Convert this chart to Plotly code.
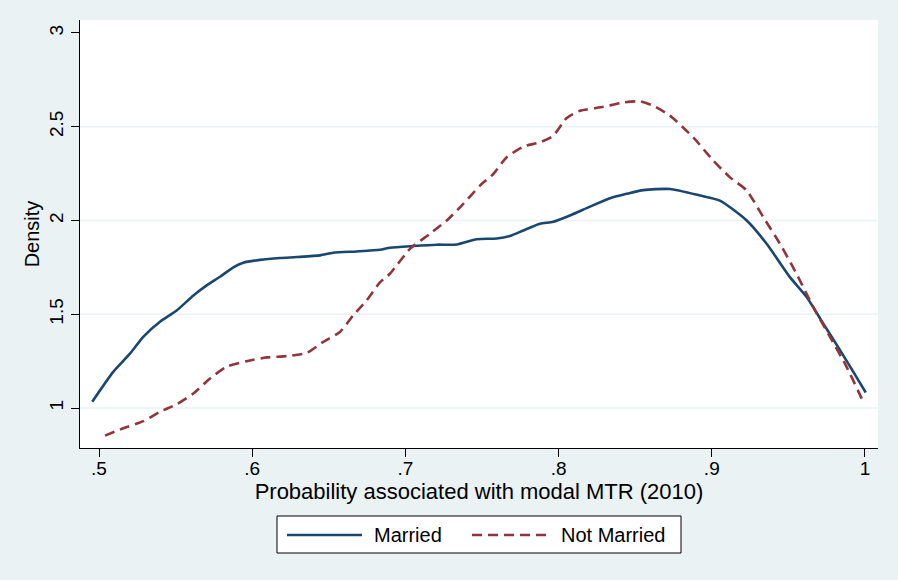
import plotly.graph_objects as go

# Kernel density estimates
married_x = [0.4956, 0.5093, 0.5202, 0.5289, 0.5398, 0.5507, 0.5616, 0.5703, 0.579, 0.5877,
             0.5942, 0.6051, 0.6181, 0.629, 0.6443, 0.6529, 0.6682, 0.6834, 0.6899, 0.7052,
             0.7204, 0.7335, 0.7465, 0.7596, 0.7683, 0.777, 0.7879, 0.7965, 0.8074, 0.8205,
             0.8336, 0.8444, 0.8553, 0.8727, 0.8923, 0.9053, 0.9228, 0.9358, 0.951, 0.9619,
             0.9728, 0.9837, 0.9924, 1.0005]
married_y = [1.034, 1.193, 1.29, 1.38, 1.46, 1.52, 1.60, 1.654, 1.70, 1.75,
             1.775, 1.79, 1.80, 1.805, 1.814, 1.828, 1.835, 1.844, 1.855, 1.864,
             1.871, 1.872, 1.90, 1.904, 1.918, 1.947, 1.982, 1.993, 2.027, 2.074,
             2.119, 2.142, 2.162, 2.168, 2.133, 2.106, 2.0, 1.876, 1.698, 1.592,
             1.45, 1.309, 1.193, 1.083]

not_married_x = [0.5039, 0.5159, 0.5289, 0.5398, 0.5507, 0.5616, 0.5725, 0.5833, 0.5964, 0.6095,
                 0.6225, 0.6356, 0.6464, 0.6573, 0.666, 0.6747, 0.6834, 0.6899, 0.703, 0.716,
                 0.727, 0.7378, 0.7487, 0.7574, 0.7661, 0.777, 0.7879, 0.7965, 0.8053, 0.814,
                 0.8292, 0.8422, 0.8531, 0.8618, 0.8727, 0.8879, 0.901, 0.9119, 0.9228, 0.9336,
                 0.9445, 0.9553, 0.9662, 0.9772, 0.988, 0.9993]
not_married_y = [0.853, 0.892, 0.93, 0.98, 1.02, 1.078, 1.158, 1.22, 1.25, 1.27,
                 1.277, 1.294, 1.353, 1.406, 1.495, 1.574, 1.67, 1.716, 1.849, 1.929,
                 2.0, 2.089, 2.186, 2.248, 2.337, 2.394, 2.417, 2.452, 2.546, 2.585,
                 2.606, 2.629, 2.635, 2.612, 2.559, 2.443, 2.319, 2.23, 2.16, 2.018,
                 1.876, 1.716, 1.539, 1.379, 1.22, 1.025]

x_ticks = [0.5, 0.6, 0.7, 0.8, 0.9, 1.0]
x_tick_labels = ['.5', '.6', '.7', '.8', '.9', '1']
y_ticks = [1, 1.5, 2, 2.5, 3]
y_tick_labels = ['1', '1.5', '2', '2.5', '3']
grid_y = [1, 1.5, 2, 2.5]

NAVY = '#1a476f'
MAROON = '#90353b'
BG = '#eaf2f3'
FONT = 'Liberation Sans, Arial, sans-serif'

# plot area in pixels (for placing the hand-made legend)
L, R, T, B = 80, 878, 20, 448


def px_x(p):
    return (p - L) / (R - L)


def px_y(p):
    return (B - p) / (B - T)


fig = go.Figure()

fig.add_trace(go.Scatter(
    x=married_x, y=married_y, mode='lines', name='Married',
    line=dict(color=NAVY, width=2.6, shape='spline', smoothing=0.6),
    showlegend=False
))
fig.add_trace(go.Scatter(
    x=not_married_x, y=not_married_y, mode='lines', name='Not Married',
    line=dict(color=MAROON, width=2.6, dash='10px,6px', shape='spline', smoothing=0.6),
    showlegend=False
))

for gy in grid_y:
    fig.add_hline(y=gy, line=dict(color=BG, width=1.5), layer='below')

# Legend box drawn by hand (Stata style)
fig.add_shape(type='rect', xref='paper', yref='paper',
              x0=px_x(277), x1=px_x(681), y0=px_y(553), y1=px_y(516),
              line=dict(color='black', width=1), fillcolor='white')
fig.add_shape(type='line', xref='paper', yref='paper',
              x0=px_x(287), x1=px_x(362), y0=px_y(535), y1=px_y(535),
              line=dict(color=NAVY, width=2.6))
fig.add_shape(type='line', xref='paper', yref='paper',
              x0=px_x(472), x1=px_x(549), y0=px_y(535), y1=px_y(535),
              line=dict(color=MAROON, width=2.6, dash='10px,6px'))
fig.add_annotation(text='Married', xref='paper', yref='paper',
                   x=px_x(372), y=px_y(535), xanchor='left', yanchor='middle',
                   showarrow=False, font=dict(size=20, color='black', family=FONT))
fig.add_annotation(text='Not Married', xref='paper', yref='paper',
                   x=px_x(559), y=px_y(535), xanchor='left', yanchor='middle',
                   showarrow=False, font=dict(size=20, color='black', family=FONT))

fig.update_layout(
    width=898, height=580,
    margin=dict(l=L, r=898 - R, t=T, b=580 - B),
    paper_bgcolor=BG,
    plot_bgcolor='white',
    font=dict(family=FONT, color='black', size=19),
    showlegend=False,
    xaxis=dict(
        range=[0.4876, 1.0085],
        tickvals=x_ticks, ticktext=x_tick_labels,
        ticks='outside', ticklen=8, tickcolor='black', tickwidth=1,
        ticklabelstandoff=-5,
        showline=True, linecolor='black', linewidth=1,
        showgrid=False, zeroline=False,
        tickfont=dict(size=19),
        title=dict(text='Probability associated with modal MTR (2010)',
                   font=dict(size=22), standoff=0),
    ),
    yaxis=dict(
        range=[0.787, 3.069],
        tickvals=y_ticks, ticktext=y_tick_labels, tickangle=-90,
        ticks='outside', ticklen=8, tickcolor='black', tickwidth=1,
        showline=True, linecolor='black', linewidth=1,
        showgrid=False, zeroline=False,
        tickfont=dict(size=19),
        title=dict(text='Density', font=dict(size=20), standoff=1),
    ),
)

fig.write_html('out.html', config={'displayModeBar': False},
               post_script="document.body.style.margin='0';")
